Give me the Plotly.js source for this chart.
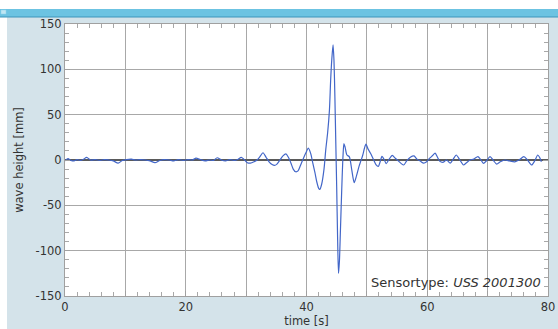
<!DOCTYPE html>
<html><head><meta charset="utf-8">
<script src="https://cdn.plot.ly/plotly-3.0.1.min.js"></script>
<style>html,body{margin:0;padding:0;background:#fff;}#chart{width:558px;height:329px;}</style>
</head><body><div id="chart"></div>
<script>
// time [s]
const timeS = [0,0.5,1,1.5,2,2.5,3,3.6,4.2,5,5.8,6.5,7.2,8,8.8,9.5,10.2,11,11.7,12.5,13.3,14.1,14.9,15.7,16.5,17.3,18,18.8,19.6,20.4,21.1,21.7,22.4,23.2,24,24.6,25.2,25.9,26.6,27.3,28,28.6,29.2,
29.6,30.2,30.7,31.3,31.8,32.2,32.8,33.3,33.8,34.3,34.7,35.1,35.6,36.1,36.6,37.0,37.4,37.8,38.2,38.6,39.0,39.5,39.9,40.3,40.7,41.0,41.4,41.7,42.0,42.2,42.5,42.9,43.2,43.5,43.8,44.0,44.2,44.4,44.55,44.7,44.85,45.0,45.15,45.3,45.45,45.6,45.75,45.9,46.05,46.2,46.4,46.7,47.1,47.5,47.9,48.3,48.7,49.0,49.3,49.6,49.85,50.2,50.6,51.0,51.5,51.9,52.2,52.5,52.9,53.2,53.7,54.2,54.7,55.2,55.7,56.1,56.6,57.2,57.8,58.3,58.9,59.4,59.9,60.4,60.9,61.3,61.7,62.1,62.6,63.2,63.8,64.3,64.8,65.4,66.0,66.5,67.1,67.7,68.4,68.9,69.3,69.8,70.4,70.9,71.5,72.1,72.9,73.6,74.5,75.2,76.0,76.6,77.3,77.8,78.3,78.6,78.9];
// wave height [mm]
const waveHeight = [-1,1.5,-0.5,-1,0.5,-0.5,0.5,3,0,0.5,-0.5,0.5,0,-1,-3.5,-0.5,0.5,1,0,0.5,0,-1,-3,-0.5,0.5,0,-1,0.5,-0.5,0.5,0,2,0.5,-1,0,-0.5,2.5,0,-1,0.5,-0.5,0.5,3,
1,-3,-3.5,-2,0,3,8,3,-2,-5,-6,-4.5,0,4.5,6.7,3,-3,-10,-13,-12,-6,2,8,13,7,-2,-14,-24,-31,-32.5,-27,-10,12,30,55,88,112,127,110,70,20,-30,-85,-125,-112,-82,-50,-20,5,18,14,5.5,3.5,-11,-25,-17,-7,-1,5,13,17.5,12,7.5,2,-5,-7,-2,4,0,-4,1,5,2,-1,-4,-5.5,-1,3,4.5,1,-1.5,-3.5,-2,2,5,7.5,3,-1.5,-2.5,0,-3.5,1,5.5,0,-5.5,-3,0,1,3.7,0,-3.7,-1,3.7,0,-4.5,-2,0,-1,-2,0,3.7,0,-5.5,-1,5.5,3,-2];

const xTickVals = [0,10,20,30,40,50,60,70,80];
const xTickText = ['0','','20','','40','','60','','80'];
const yTickVals = [-150,-100,-50,0,50,100,150];
const yTickText = ['-150','-100','-50','0','50','100','150'];

const panel = '#d4e3ea';
const font = {family: 'DejaVu Sans, sans-serif', size: 11.5, color: '#333'};

const trace = {
  x: timeS, y: waveHeight, type: 'scatter', mode: 'lines',
  line: {color: '#4266c8', width: 1.2, shape: 'spline', smoothing: 0.7},
  hoverinfo: 'none'
};

const W = 483, H = 272;
const layout = {
  width: 558, height: 329,
  margin: {l: 65, r: 10, t: 24, b: 33},
  paper_bgcolor: panel,
  plot_bgcolor: '#ffffff',
  showlegend: false,
  font: font,
  xaxis: {
    range: [0, 80], tickmode: 'array', tickvals: xTickVals, ticktext: xTickText,
    showgrid: true, gridcolor: '#a8a8a8', gridwidth: 1,
    zeroline: false, showline: true, linecolor: '#a0a0a0', linewidth: 1, mirror: 'ticks',
    ticks: 'inside', ticklen: 5, tickcolor: '#a0a0a0',
    minor: {dtick: 2, ticks: 'inside', ticklen: 4, tickcolor: '#a8a8a8', showgrid: false},
    tickfont: font,
    title: {text: 'time [s]', font: font, standoff: 2}
  },
  yaxis: {
    range: [-150, 150], tickmode: 'array', tickvals: yTickVals, ticktext: yTickText,
    showgrid: true, gridcolor: '#a8a8a8', gridwidth: 1,
    zeroline: true, zerolinecolor: '#5a5a5a', zerolinewidth: 2,
    showline: true, linecolor: '#a0a0a0', linewidth: 1, mirror: 'ticks',
    ticks: 'inside', ticklen: 5, tickcolor: '#a0a0a0',
    minor: {dtick: 10, ticks: 'inside', ticklen: 4, tickcolor: '#a8a8a8', showgrid: false},
    tickfont: font,
    title: {text: 'wave height [mm]', font: font, standoff: 9}
  },
  shapes: [
    // white area above the window title bar
    {type: 'rect', xref: 'paper', yref: 'paper', layer: 'below',
     x0: -65/W, x1: 1 + 10/W, y0: 1 + 15/H, y1: 1 + 24/H,
     fillcolor: '#ffffff', line: {width: 0}},
    // white strip at left edge
    {type: 'rect', xref: 'paper', yref: 'paper', layer: 'below',
     x0: -65/W, x1: -58/W, y0: -33/H, y1: 1 + 7/H,
     fillcolor: '#ffffff', line: {width: 0}},
    // title bar
    {type: 'rect', xref: 'paper', yref: 'paper', layer: 'below',
     x0: -65/W, x1: 1 + 10/W, y0: 1 + 7/H, y1: 1 + 15/H,
     fillcolor: '#6cc3e2', line: {width: 0}},
    {type: 'line', xref: 'paper', yref: 'paper', layer: 'below',
     x0: -65/W, x1: 1 + 10/W, y0: 1 + 7/H, y1: 1 + 7/H,
     line: {color: '#3d95bb', width: 1}},
    {type: 'rect', xref: 'paper', yref: 'paper', layer: 'below',
     x0: -64/W, x1: -59/W, y0: 1 + 10/H, y1: 1 + 14/H,
     fillcolor: '#bfe6f3', line: {color: '#8fd0e8', width: 0.5}}
  ],
  annotations: [
    {xref: 'paper', yref: 'paper', x: 0.99, y: 0.015, xanchor: 'right', yanchor: 'bottom',
     showarrow: false, text: 'Sensortype: <i>USS 2001300</i>',
     font: {family: 'DejaVu Sans, sans-serif', size: 13, color: '#333'}}
  ]
};

Plotly.newPlot('chart', [trace], layout, {staticPlot: true, displayModeBar: false});
</script></body></html>
